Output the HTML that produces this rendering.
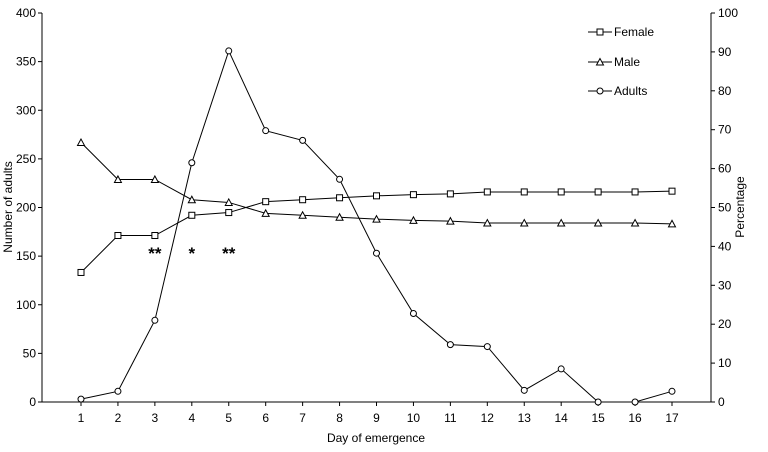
<!DOCTYPE html>
<html><head><meta charset="utf-8"><style>
body{margin:0;background:#fff}
svg{display:block;font-family:"Liberation Sans",Arial,sans-serif}
</style></head><body>
<svg id="chart" width="768" height="452"></svg>
<script>
const days=[1,2,3,4,5,6,7,8,9,10,11,12,13,14,15,16,17];
const adults=[3,11,84,246,361,279,269,229,153,91,59,57,12,34,0,0,11];
const femalePct=[33.3,42.8,42.8,48,48.7,51.5,52,52.5,53,53.3,53.5,54,54,54,54,54,54.2];
const malePct=[66.7,57.2,57.2,52,51.3,48.5,48,47.5,47,46.7,46.5,46,46,46,46,46,45.8];
const leftTicks=[0,50,100,150,200,250,300,350,400];
const rightTicks=[0,10,20,30,40,50,60,70,80,90,100];
const sigDays=[3,4,5];
const sigLabels=["**","*","**"];

const NS="http://www.w3.org/2000/svg";
const svg=document.getElementById('chart');
const X0=42,X1=711,Y0=402,Y1=13;
const xs=d=>81+(d-1)*(672-81)/16;
const yl=v=>Y0-(v/400)*(Y0-Y1);
const yr=v=>Y0-(v/100)*(Y0-Y1);
function el(t,a,p){const e=document.createElementNS(NS,t);for(const k in a)e.setAttribute(k,a[k]);(p||svg).appendChild(e);return e;}
function txt(s,a){const e=el('text',Object.assign({'font-size':12,fill:'#000'},a));e.textContent=s;return e;}

let ax=el('line',{x1:X0,y1:Y1,x2:X0,y2:Y0,stroke:'#000'});

ax=el('line',{x1:X1,y1:Y1,x2:X1,y2:Y0,stroke:'#000'});

ax=el('line',{x1:X0,y1:Y0,x2:X1,y2:Y0,stroke:'#000'});


leftTicks.forEach(v=>{el('line',{x1:X0-4,x2:X0,y1:yl(v),y2:yl(v),stroke:'#000'});
 const t=txt(String(v),{x:X0-6,y:yl(v)+4,'text-anchor':'end'});
 });
rightTicks.forEach(v=>{el('line',{x1:X1,x2:X1+4,y1:yr(v),y2:yr(v),stroke:'#000'});
 const t=txt(String(v),{x:X1+7,y:yr(v)+4});
 });
days.forEach(d=>{el('line',{x1:xs(d),x2:xs(d),y1:Y0,y2:Y0+4,stroke:'#000'});
 const t=txt(String(d),{x:xs(d),y:422,'text-anchor':'middle'});
 });

let t=txt('Day of emergence',{x:376,y:442,'text-anchor':'middle'});

t=txt('Number of adults',{x:0,y:0,'text-anchor':'middle',transform:'translate(12,207) rotate(-90)'});

t=txt('Percentage',{x:0,y:0,'text-anchor':'middle',transform:'translate(744,207) rotate(-90)'});


function marker(type,x,y,g){
 if(type==='sq')return el('rect',{x:x-3,y:y-3,width:6,height:6,fill:'#fff',stroke:'#000'},g);
 if(type==='tri')return el('polygon',{points:`${x},${y-3.5} ${x-3.5},${y+3} ${x+3.5},${y+3}`,fill:'#fff',stroke:'#000'},g);
 return el('circle',{cx:x,cy:y,r:3,fill:'#fff',stroke:'#000'},g);
}
function series(vals,yf,type,name){
 const g=el('g',{});
 
 el('polyline',{points:vals.map((v,i)=>xs(days[i])+','+yf(v)).join(' '),fill:'none',stroke:'#000'},g);
 vals.forEach((v,i)=>{const m=marker(type,xs(days[i]),yf(v),g);
  });
}
series(adults,yl,'c','adults-series');
series(malePct,yr,'tri','male-series');
series(femalePct,yr,'sq','female-series');

sigDays.forEach((d,i)=>{const s=txt(sigLabels[i],{x:xs(d),y:259,'text-anchor':'middle','font-size':17,'font-weight':'bold'});
 });

[['Female','sq',32],['Male','tri',62],['Adults','c',91]].forEach(([n,tp,y])=>{
 const g=el('g',{});
 el('line',{x1:588,x2:612,y1:y,y2:y,stroke:'#000'},g);marker(tp,600,y,g);
 const l=el('text',{x:614,y:y+4,'font-size':12},g);l.textContent=n;
});
</script>
</body></html>
